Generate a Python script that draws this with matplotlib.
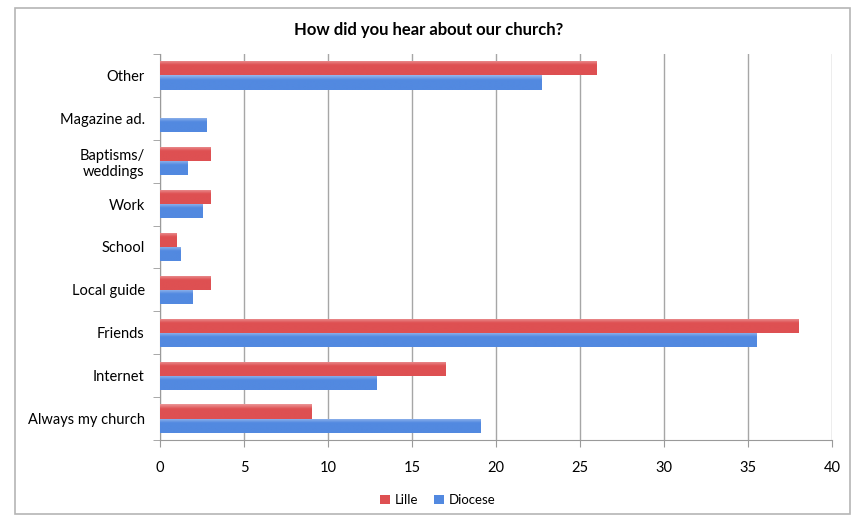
import numpy as np
import matplotlib.pyplot as plt
from matplotlib.patches import Rectangle
from matplotlib.colors import LinearSegmentedColormap

categories = ['Always my church', 'Internet', 'Friends', 'Local guide', 'School',
              'Work', 'Baptisms/\nweddings', 'Magazine ad.', 'Other']
lille = [9, 17, 38, 3, 1, 3, 3, 0, 26]
diocese = [19.1, 12.9, 35.5, 1.95, 1.2, 2.55, 1.65, 2.75, 22.7]
xticks = [0, 5, 10, 15, 20, 25, 30, 35, 40]

red = '#de5052'
blue = '#5289e0'
plt.rcParams['font.family'] = ['Lato', 'DejaVu Sans']

fig = plt.figure(figsize=(8.57, 5.15), dpi=100)
W, H = 857, 515
ax = fig.add_axes([160 / W, 1 - 440 / H, 672 / W, 386 / H])

# frame around the whole chart
fig.patches.append(Rectangle((15 / W, 0.002), 835 / W, 1 - 8 / H - 0.002,
                             transform=fig.transFigure, fill=False,
                             edgecolor='#b5b5b5', linewidth=1.2))

y = np.arange(len(categories))
h = 0.33
bars_l = ax.barh(y + h / 2, lille, height=h, color=red, label='Lille', zorder=3)
bars_d = ax.barh(y - h / 2, diocese, height=h, color=blue, label='Diocese', zorder=3)


def shade(bars, base):
    # glossy look: light band on top, base colour, slightly darker bottom edge
    cmap = LinearSegmentedColormap.from_list('g', ['#ffffff', base, base, '#000000'])
    grad = np.linspace(0.62, 0.2, 64).reshape(-1, 1)
    for b in bars:
        if b.get_width() <= 0:
            continue
        x0, y0 = b.get_x(), b.get_y()
        im = ax.imshow(grad, cmap=cmap, vmin=0, vmax=1, aspect='auto',
                       extent=(x0, x0 + b.get_width(), y0, y0 + b.get_height()),
                       origin='lower', zorder=4, interpolation='bilinear')
        im.set_clip_path(b)


shade(bars_l, red)
shade(bars_d, blue)

ax.set_xlim(0, 40)
ax.set_ylim(-0.5, len(categories) - 0.5)
ax.set_xticks(xticks)
ax.set_xticklabels([str(t) for t in xticks], fontsize=10.5)
ax.set_yticks(y)
ax.set_yticklabels(categories, fontsize=10.5, linespacing=1.25)
ax.set_yticks(np.arange(-0.5, len(categories), 1), minor=True)
ax.tick_params(axis='y', which='major', length=0, pad=11)
ax.tick_params(axis='y', which='minor', length=5, color='#9a9a9a', direction='out')
ax.tick_params(axis='x', length=5, color='#9a9a9a', pad=10)
ax.xaxis.grid(True, color='#a6a6a6', linewidth=1, zorder=0)
ax.set_axisbelow(True)
for s in ['top', 'right']:
    ax.spines[s].set_visible(False)
for s in ['left', 'bottom']:
    ax.spines[s].set_color('#9a9a9a')

fig.text(0.5, 1 - 30 / H, 'How did you hear about our church?', ha='center',
         va='center', fontsize=12, fontweight='bold')

ax.legend(loc='center', bbox_to_anchor=(438 / W, 1 - 500 / H),
          bbox_transform=fig.transFigure, ncol=2, frameon=False, fontsize=9.5,
          handlelength=0.7, handleheight=0.7, handletextpad=0.4, columnspacing=1.2)

fig.savefig('out.png', dpi=100)
